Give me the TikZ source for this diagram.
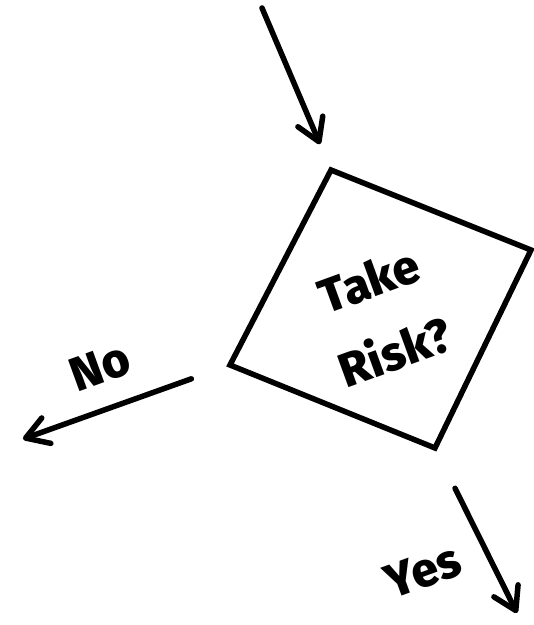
\documentclass[tikz,border=0pt]{standalone}
\usepackage{fontspec}
\setmainfont{Fira Sans}[BoldFont={Fira Sans ExtraBold}]
\usetikzlibrary{arrows.meta}

\begin{document}
\begin{tikzpicture}[x=1pt,y=1pt,line width=5.5pt,line cap=round,line join=miter,-{Straight Barb[length=22pt,width=27pt,line cap=round,line join=round]}]
    \tikzstyle{label}=[font=\fontsize{48}{76}\selectfont\bfseries,rotate=20,align=center,inner sep=0pt]
    \useasboundingbox (0,0) rectangle (534,625);

    % corners of the decision box
    \coordinate (top) at (331,455);
    \coordinate (right) at (531,375);
    \coordinate (bottom) at (435,177);
    \coordinate (left) at (230,260);
    \draw[-] (top) -- (right) -- (bottom) -- (left) -- cycle;
    \node[label] (question) at (382,309) {Take\\Risk?};

    \coordinate (start) at (262,617);
    \coordinate (no-end) at (23,186);
    \coordinate (yes-end) at (517,12);

    \draw[shorten >=28pt] (start) -- (top);
    \draw[shorten <=41pt] (left) -- (no-end);
    \draw[shorten <=45pt] (bottom) -- (yes-end);

    \node[label] (no) at (100,258) {No};
    \node[label] (yes) at (423,54) {Yes};
\end{tikzpicture}
\end{document}
